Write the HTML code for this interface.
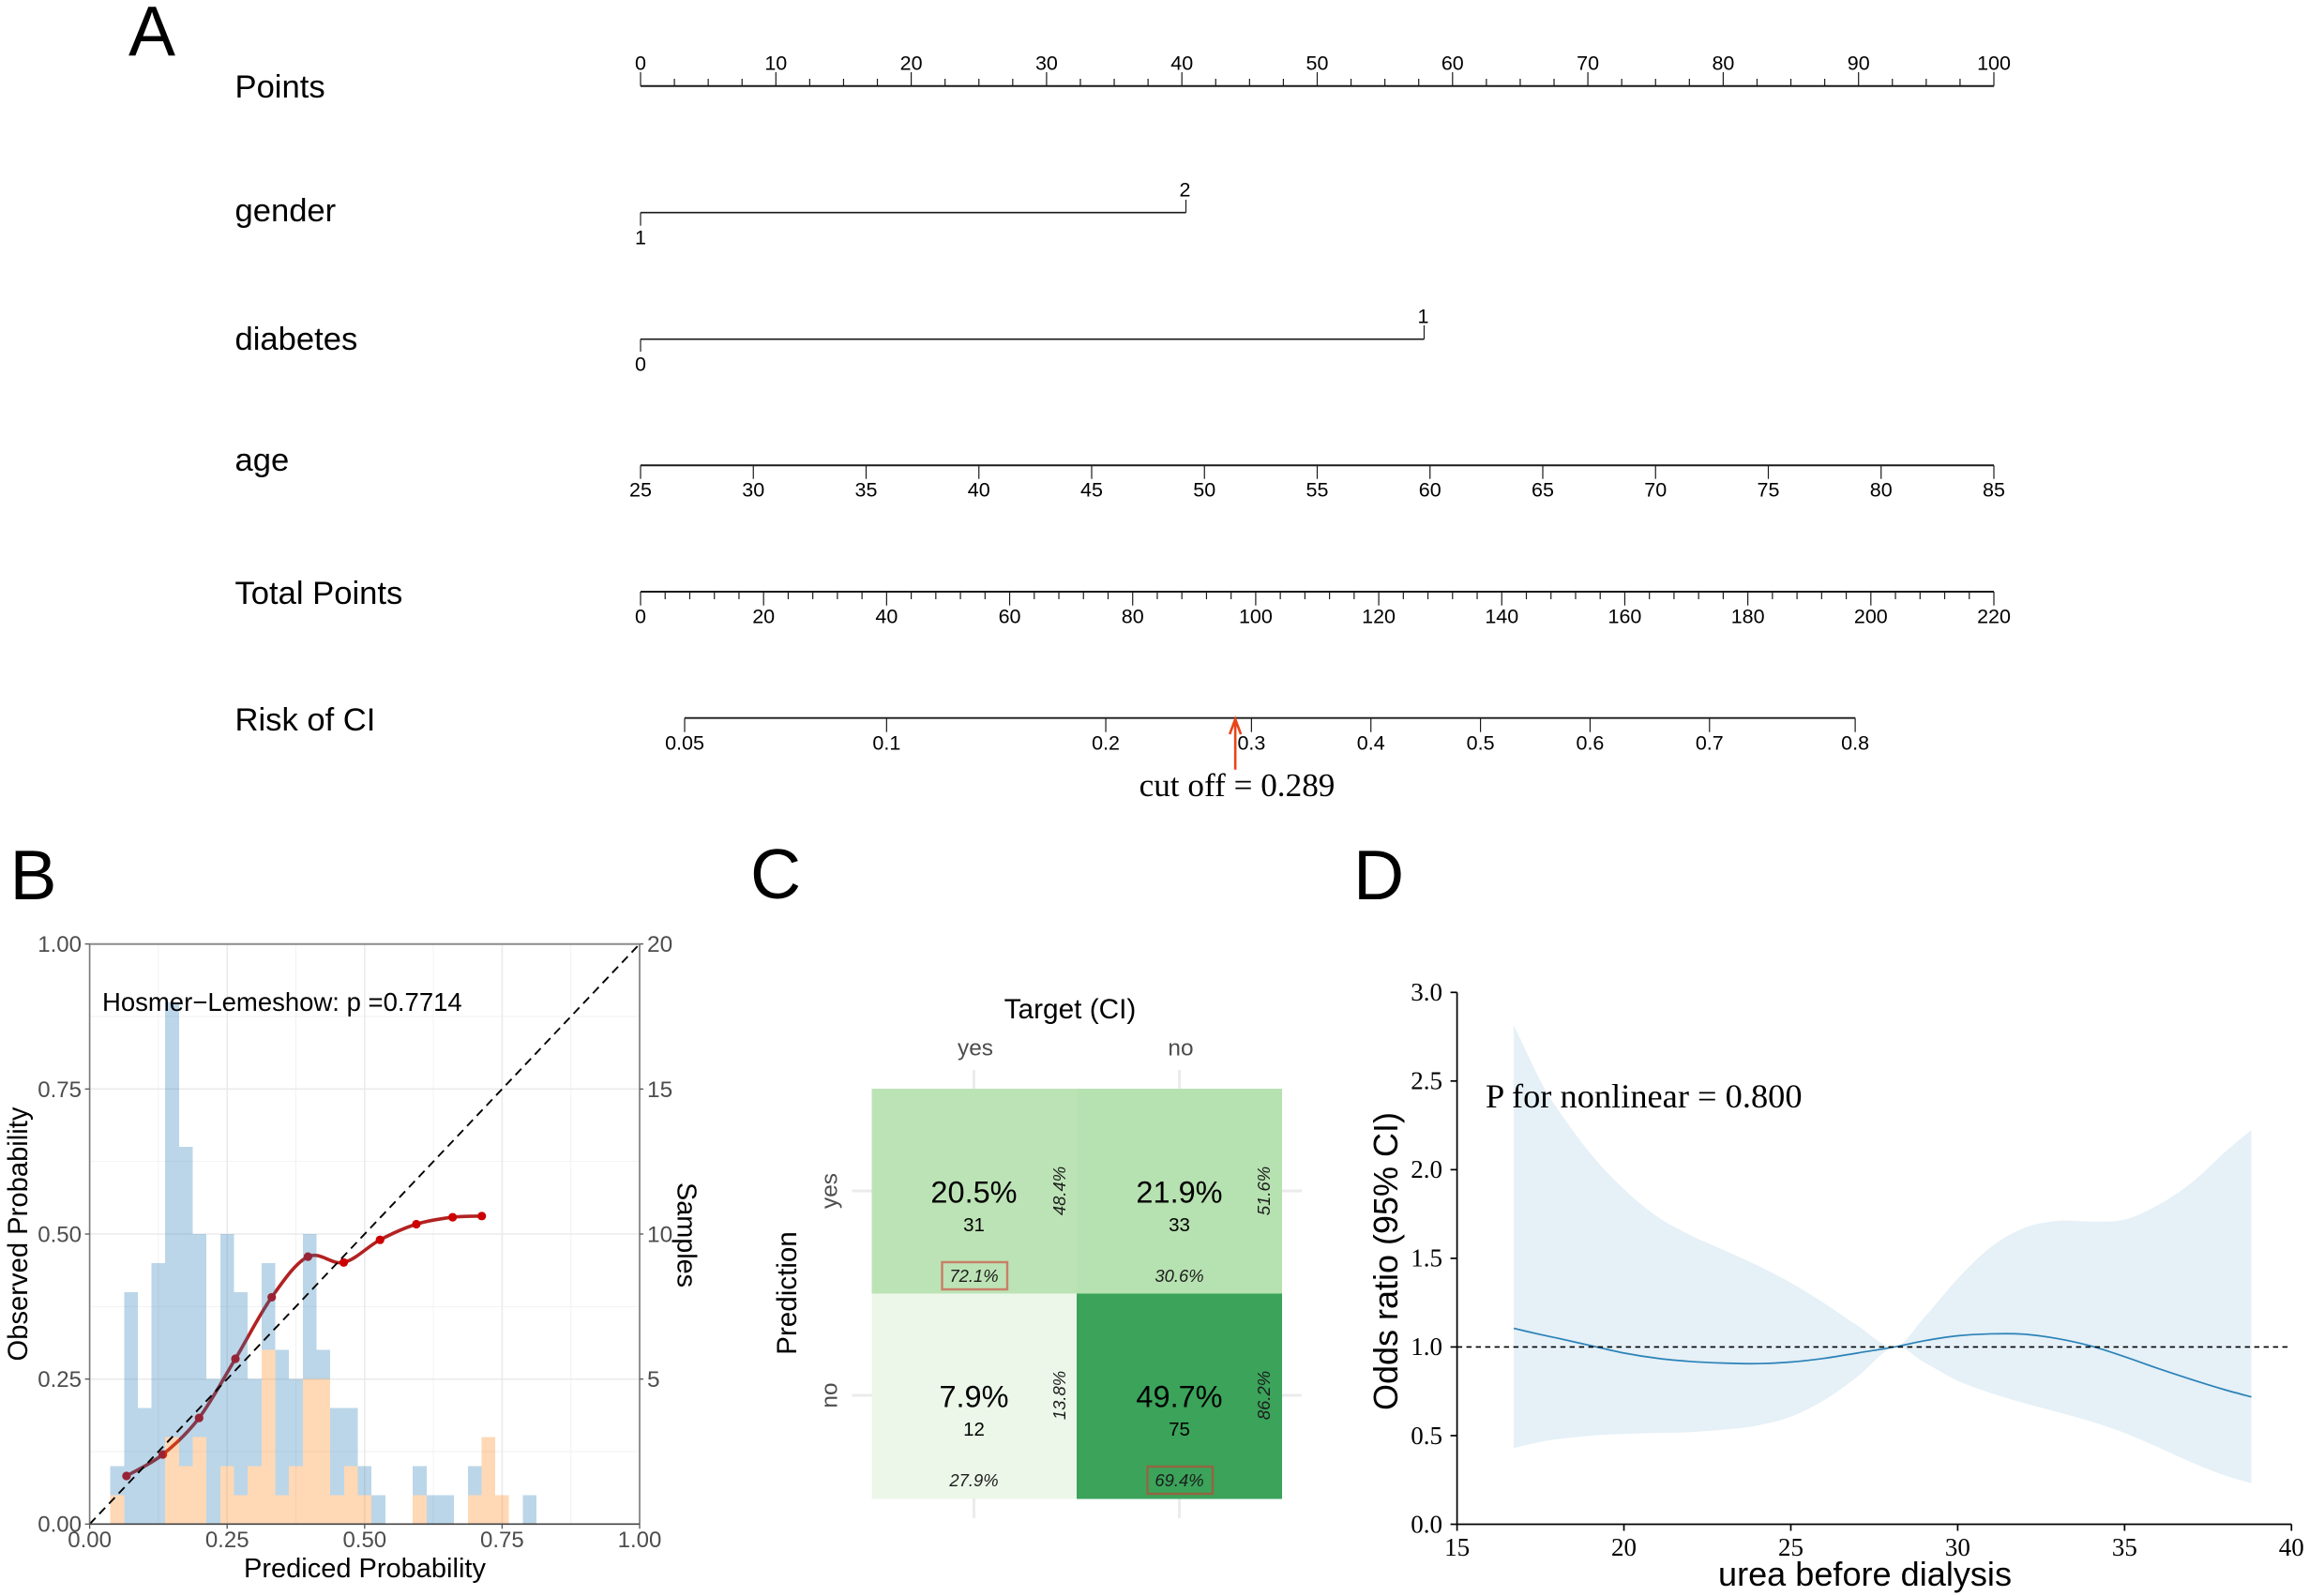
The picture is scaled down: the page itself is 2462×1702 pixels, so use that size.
<!DOCTYPE html>
<html lang="en">
<head>
<meta charset="utf-8">
<title>Nomogram, calibration, confusion matrix and spline panels</title>
<style>
html,body{margin:0;padding:0;background:#fff;}
svg{display:block;font-family:"Liberation Sans",Arial,sans-serif;}
.serif{font-family:"Liberation Serif","Times New Roman",serif;}
</style>
</head>
<body>
<svg id="figure" xmlns="http://www.w3.org/2000/svg" width="2462" height="1702" viewBox="0 0 2462 1702">
  <rect x="0" y="0" width="2462" height="1702" fill="#fff"/>
  <text x="137" y="59" font-size="75">A</text>
  <text x="10.5" y="959" font-size="75">B</text>
  <text x="800" y="958" font-size="75">C</text>
  <text x="1443" y="959" font-size="75">D</text>
  <g id="panelA"></g>
  <g id="panelB"></g>
  <g id="panelC"></g>
  <g id="panelD"></g>
</svg>
<script>
/* ---------- Panel A data ---------- */
const pointsMajorTicks = [0,10,20,30,40,50,60,70,80,90,100];
const pointsMinorTicks = [2.5,5,7.5,12.5,15,17.5,22.5,25,27.5,32.5,35,37.5,42.5,45,47.5,52.5,55,57.5,62.5,65,67.5,72.5,75,77.5,82.5,85,87.5,92.5,95,97.5];
const genderPoints = [0,40.3];
const genderLabels = ['1','2'];
const diabetesPoints = [0,57.9];
const diabetesLabels = ['0','1'];
const ageTicks = [25,30,35,40,45,50,55,60,65,70,75,80,85];
const totalMajorTicks = [0,20,40,60,80,100,120,140,160,180,200,220];
const totalMinorTicks = [4,8,12,16,24,28,32,36,44,48,52,56,64,68,72,76,84,88,92,96,104,108,112,116,124,128,132,136,144,148,152,156,164,168,172,176,184,188,192,196,204,208,212,216];
const riskTicks = [0.05,0.1,0.2,0.3,0.4,0.5,0.6,0.7,0.8];
const riskCutoff = [0.289];

/* ---------- Panel B data ---------- */
const histBins = [0.05,0.075,0.1,0.125,0.15,0.175,0.2,0.225,0.25,0.275,0.3,0.325,0.35,0.375,0.4,0.425,0.45,0.475,0.5,0.525,0.55,0.575,0.6,0.625,0.65,0.675,0.7,0.725,0.75,0.775,0.8];
const histOrangeCounts = [1,0,0,0,3,2,3,0,2,1,2,6,1,2,5,5,1,2,1,0,0,0,1,0,0,0,1,3,1,0,0];
const histBlueCounts = [1,8,4,9,15,11,7,5,8,7,3,3,5,3,5,1,3,2,1,1,0,0,1,1,1,0,1,0,0,0,1];
const calibPredicted = [0.067,0.133,0.199,0.265,0.331,0.397,0.462,0.528,0.594,0.660,0.713];
const calibObserved = [0.083,0.120,0.183,0.285,0.391,0.461,0.451,0.490,0.517,0.529,0.531];
const calibTickLabels = ['0.00','0.25','0.50','0.75','1.00'];
const calibTickValues = [0,0.25,0.5,0.75,1];
const sampleTickValues = [5,10,15,20];

/* ---------- Panel C data ---------- */
const cmTargets = ['yes','no'];
const cmPredictions = ['yes','no'];
const cmCounts = [[31,33],[12,75]];
const cmTotalPct = [['20.5%','21.9%'],['7.9%','49.7%']];
const cmColPct = [['72.1%','30.6%'],['27.9%','69.4%']];
const cmRowPct = [['48.4%','51.6%'],['13.8%','86.2%']];

/* ---------- Panel D data ---------- */
const ureaValues = [16.7,17.5,18,19,20,21,22,23,24,25,26,27,28.1,29,30,31,32,33,34,35,36,37,38,38.8];
const oddsCentre = [1.105,1.07,1.05,1.008,0.966,0.936,0.918,0.909,0.906,0.915,0.936,0.966,1.0,1.035,1.063,1.074,1.072,1.047,1.005,0.945,0.879,0.817,0.759,0.718];
const oddsUpper = [2.816,2.50,2.345,2.09,1.89,1.735,1.63,1.546,1.46,1.362,1.247,1.12,1.0,1.166,1.385,1.564,1.672,1.711,1.707,1.718,1.80,1.925,2.098,2.224];
const oddsLower = [0.431,0.465,0.48,0.50,0.51,0.515,0.52,0.534,0.557,0.607,0.70,0.833,1.0,0.913,0.81,0.74,0.683,0.633,0.58,0.515,0.435,0.35,0.276,0.232];
const ureaTicks = [15,20,25,30,35,40];
const oddsTicks = ['0.0','0.5','1.0','1.5','2.0','2.5','3.0'];

/* ---------- helpers ---------- */
const NS = 'http://www.w3.org/2000/svg';
function add(parent, tag, attrs, content) {
  const node = document.createElementNS(NS, tag);
  for (const k in attrs) node.setAttribute(k, attrs[k]);
  if (content !== undefined) node.textContent = content;
  parent.appendChild(node);
  return node;
}
function smoothPath(px, py, move) {
  let d = (move === false ? 'L' : 'M') + px[0].toFixed(2) + ' ' + py[0].toFixed(2);
  for (let i = 0; i < px.length - 1; i++) {
    const a = Math.max(i - 1, 0), b = Math.min(i + 2, px.length - 1);
    const c1x = px[i] + (px[i + 1] - px[a]) / 6, c1y = py[i] + (py[i + 1] - py[a]) / 6;
    const c2x = px[i + 1] - (px[b] - px[i]) / 6, c2y = py[i + 1] - (py[b] - py[i]) / 6;
    d += ' C' + c1x.toFixed(2) + ' ' + c1y.toFixed(2) + ' ' + c2x.toFixed(2) + ' ' + c2y.toFixed(2) + ' ' + px[i + 1].toFixed(2) + ' ' + py[i + 1].toFixed(2);
  }
  return d;
}
const INK = '#1a1a1a';

/* ---------- Panel A ---------- */
(function () {
  const g = document.getElementById('panelA');
  const X0 = 683, X1 = 2126;
  const xPoints = v => X0 + (X1 - X0) * v / 100;
  const xAge = v => X0 + (X1 - X0) * (v - 25) / 60;
  const xTotal = v => X0 + (X1 - X0) * v / 220;
  const logit = p => Math.log(p / (1 - p));
  const xRisk = p => 730 + (logit(p) - logit(0.05)) * 288.2;
  const FS = 21.5;
  const varLabels = [['Points', 104], ['gender', 236], ['diabetes', 373], ['age', 502], ['Total Points', 644], ['Risk of CI', 779]];
  varLabels.forEach(function (row) {
    const el = add(g, 'text', { x: 250.5, y: row[1], 'font-size': 34.6, fill: '#000' }, row[0]);
    
    
  });
  function axisLine(x1, x2, y, w) {
    const el = add(g, 'line', { x1: x1, x2: x2, y1: y, y2: y, stroke: INK, 'stroke-width': w });
    
    
  }
  function tick(x, y1, y2) {
    const el = add(g, 'line', { x1: x, x2: x, y1: y1, y2: y2, stroke: INK, 'stroke-width': 1.2 });
    
    
  }
  function tickText(x, yc, s) {
    const el = add(g, 'text', { x: x, y: yc + FS * 0.35, 'font-size': FS, 'text-anchor': 'middle', fill: '#000' }, s);
    
    
  }
  axisLine(xPoints(0), xPoints(100), 91.7, 2);
  pointsMajorTicks.forEach(v => { tick(xPoints(v), 77, 91.7); tickText(xPoints(v), 67, String(v)); });
  pointsMinorTicks.forEach(v => tick(xPoints(v), 84, 91.7));

  axisLine(xPoints(genderPoints[0]), xPoints(genderPoints[1]), 226.7, 1.6);
  tick(xPoints(genderPoints[0]), 226.7, 240.7);
  tick(xPoints(genderPoints[1]), 213, 226.7);
  tickText(xPoints(genderPoints[0]), 253, genderLabels[0]);
  tickText(xPoints(genderPoints[1]) - 1, 202, genderLabels[1]);

  axisLine(xPoints(diabetesPoints[0]), xPoints(diabetesPoints[1]), 361.7, 1.6);
  tick(xPoints(diabetesPoints[0]), 361.7, 375);
  tick(xPoints(diabetesPoints[1]), 347, 361.7);
  tickText(xPoints(diabetesPoints[0]), 388, diabetesLabels[0]);
  tickText(xPoints(diabetesPoints[1]) - 1, 337, diabetesLabels[1]);

  axisLine(xAge(25), xAge(85), 496.3, 2);
  ageTicks.forEach(v => { tick(xAge(v), 496.3, 510.7); tickText(xAge(v), 522, String(v)); });

  axisLine(xTotal(0), xTotal(220), 631, 2);
  totalMajorTicks.forEach(v => { tick(xTotal(v), 631, 645.7); tickText(xTotal(v), 657, String(v)); });
  totalMinorTicks.forEach(v => tick(xTotal(v), 631, 639));

  axisLine(xRisk(0.05), xRisk(0.8), 765.7, 1.8);
  riskTicks.forEach(v => { tick(xRisk(v), 765.7, 780.7); tickText(xRisk(v), 792, String(v)); });

  const ax = xRisk(riskCutoff[0]) - 2;
  const arrow = add(g, 'path', { d: 'M' + ax + ' 820.7 L' + ax + ' 767 M' + (ax - 6) + ' 783 L' + ax + ' 767 L' + (ax + 6) + ' 783', fill: 'none', stroke: '#e8451a', 'stroke-width': 2.6 });
  
  
  const cutText = add(g, 'text', { x: 1319, y: 849, 'font-size': 35.2, 'text-anchor': 'middle', class: 'serif', fill: '#000' }, 'cut off = ' + riskCutoff[0]);
  
  
})();

/* ---------- Panel B ---------- */
(function () {
  const g = document.getElementById('panelB');
  const L = 95.6, R = 682, T = 1006.7, B = 1625.3;
  const x = v => L + (R - L) * v;
  const y = v => B - (B - T) * v;
  const yCount = c => B - (B - T) * c / 20;
  const binW = 0.025;
  const GREY = '#4d4d4d';

  [0.125, 0.375, 0.625, 0.875].forEach(function (v) {
    const h = add(g, 'line', { x1: L, x2: R, y1: y(v), y2: y(v), stroke: '#f2f2f2', 'stroke-width': 1 });
    
    
    const w = add(g, 'line', { x1: x(v), x2: x(v), y1: T, y2: B, stroke: '#f2f2f2', 'stroke-width': 1 });
    
    
  });
  calibTickValues.forEach(function (v) {
    const h = add(g, 'line', { x1: L, x2: R, y1: y(v), y2: y(v), stroke: '#ebebeb', 'stroke-width': 1.6 });
    
    
    const w = add(g, 'line', { x1: x(v), x2: x(v), y1: T, y2: B, stroke: '#ebebeb', 'stroke-width': 1.6 });
    
    
  });

  const px = calibPredicted.map(x), py = calibObserved.map(y);
  const curve = add(g, 'path', { d: smoothPath(px, py), fill: 'none', stroke: '#b22222', 'stroke-width': 3.6 });
  
  
  px.forEach(function (cx, i) {
    const dot = add(g, 'circle', { cx: cx, cy: py[i], r: 4.6, fill: '#cc0000' });
    
    
  });

  histBins.forEach(function (c, i) {
    const o = histOrangeCounts[i], b = histBlueCounts[i];
    if (o > 0) {
      const r = add(g, 'rect', { x: x(c - binW / 2), width: x(c + binW / 2) - x(c - binW / 2), y: yCount(o), height: yCount(0) - yCount(o), fill: '#ff7f0e', 'fill-opacity': 0.3, 'shape-rendering': 'crispEdges' });
      
      
    }
    if (b > 0) {
      const r = add(g, 'rect', { x: x(c - binW / 2), width: x(c + binW / 2) - x(c - binW / 2), y: yCount(o + b), height: yCount(o) - yCount(o + b), fill: '#1f77b4', 'fill-opacity': 0.3, 'shape-rendering': 'crispEdges' });
      
      
    }
  });

  const diag = add(g, 'line', { x1: x(0), y1: y(0), x2: x(1), y2: y(1), stroke: '#000', 'stroke-width': 1.9, 'stroke-dasharray': '9 6' });
  
  

  const topB = add(g, 'line', { x1: L, x2: R, y1: T, y2: T, stroke: '#8c8c8c', 'stroke-width': 2 });
  
  
  const leftB = add(g, 'line', { x1: L, x2: L, y1: T, y2: B, stroke: '#7a7a7a', 'stroke-width': 1.6 });
  
  
  const rightB = add(g, 'line', { x1: R, x2: R, y1: T, y2: B, stroke: '#7a7a7a', 'stroke-width': 1.6 });
  
  
  const botB = add(g, 'line', { x1: L, x2: R, y1: B, y2: B, stroke: '#444', 'stroke-width': 1.6 });
  
  

  calibTickValues.forEach(function (v, i) {
    const t1 = add(g, 'line', { x1: L - 5, x2: L, y1: y(v), y2: y(v), stroke: '#555', 'stroke-width': 1.3 });
    
    
    const l1 = add(g, 'text', { x: 87, y: y(v) + 8.4, 'font-size': 24, 'text-anchor': 'end', fill: GREY }, calibTickLabels[i]);
    
    
    const t2 = add(g, 'line', { x1: x(v), x2: x(v), y1: B, y2: B + 5, stroke: '#555', 'stroke-width': 1.3 });
    
    
    const l2 = add(g, 'text', { x: x(v), y: 1650, 'font-size': 24, 'text-anchor': 'middle', fill: GREY }, calibTickLabels[i]);
    
    
  });
  sampleTickValues.forEach(function (c) {
    const t = add(g, 'line', { x1: R, x2: R + 4, y1: yCount(c), y2: yCount(c), stroke: '#555', 'stroke-width': 1.3 });
    
    
    const l = add(g, 'text', { x: 690, y: yCount(c) + 8.4, 'font-size': 24.4, fill: GREY }, String(c));
    
    
  });

  const yt = add(g, 'text', { x: 0, y: 0, transform: 'translate(29 1316) rotate(-90)', 'font-size': 29.2, 'text-anchor': 'middle', fill: '#000' }, 'Observed Probability');
  
  
  const st = add(g, 'text', { x: 0, y: 0, transform: 'translate(722.5 1317) rotate(90)', 'font-size': 28.8, 'text-anchor': 'middle', fill: '#000' }, 'Samples');
  
  
  const xt = add(g, 'text', { x: 389, y: 1682, 'font-size': 29, 'text-anchor': 'middle', fill: '#000' }, 'Prediced Probability');
  
  
  const hl = add(g, 'text', { x: 109, y: 1078, 'font-size': 27.5, fill: '#000' }, 'Hosmer\u2212Lemeshow: p =0.7714');
  
  
})();

/* ---------- Panel C ---------- */
(function () {
  const g = document.getElementById('panelC');
  const colEdges = [929.5, 1148.2, 1366.8];
  const rowEdges = [1160.8, 1379.5, 1598.5];
  const colC = [1038.5, 1257.5];
  const rowC = [1271, 1489];
  const GREY = '#4d4d4d';
  function fillFor(n) {
    const stops = [[12, [236, 247, 233]], [32, [185, 226, 178]], [75, [59, 163, 90]]];
    let a = stops[0], b = stops[1];
    if (n > stops[1][0]) { a = stops[1]; b = stops[2]; }
    const t = Math.max(0, Math.min(1, (n - a[0]) / (b[0] - a[0])));
    return 'rgb(' + a[1].map((c, i) => Math.round(c + (b[1][i] - c) * t)).join(',') + ')';
  }
  [0, 1].forEach(function (c) {
    const t1 = add(g, 'line', { x1: colC[c], x2: colC[c], y1: 1141, y2: 1160.8, stroke: '#ebebeb', 'stroke-width': 3 });
    
    
    const t2 = add(g, 'line', { x1: colC[c], x2: colC[c], y1: 1598.5, y2: 1619, stroke: '#ebebeb', 'stroke-width': 3 });
    
    
    const l = add(g, 'text', { x: colC[c] + 1.5, y: 1125.7, 'font-size': 24.4, 'text-anchor': 'middle', fill: GREY }, cmTargets[c]);
    
    
  });
  [0, 1].forEach(function (r) {
    const t1 = add(g, 'line', { x1: 908.5, x2: 929.5, y1: rowC[r] - 1, y2: rowC[r] - 1, stroke: '#ebebeb', 'stroke-width': 3 });
    
    
    const t2 = add(g, 'line', { x1: 1366.8, x2: 1388, y1: rowC[r] - 1, y2: rowC[r] - 1, stroke: '#ebebeb', 'stroke-width': 3 });
    
    
    const l = add(g, 'text', { x: 0, y: 0, transform: 'translate(892.7 ' + (rowC[r] - 1) + ') rotate(-90)', 'font-size': 24.4, 'text-anchor': 'middle', fill: GREY }, cmPredictions[r]);
    
    
  });
  cmCounts.forEach(function (row, r) {
    row.forEach(function (n, c) {
      const cell = add(g, 'rect', { x: colEdges[c], y: rowEdges[r], width: colEdges[c + 1] - colEdges[c], height: rowEdges[r + 1] - rowEdges[r], fill: fillFor(n), 'shape-rendering': 'crispEdges' });
      
      
    });
  });
  cmCounts.forEach(function (row, r) {
    row.forEach(function (n, c) {
      const big = add(g, 'text', { x: colC[c], y: rowC[r] + 11.5, 'font-size': 32.5, 'text-anchor': 'middle', fill: '#000' }, cmTotalPct[r][c]);
      
      
      const cnt = add(g, 'text', { x: colC[c], y: rowC[r] + 42, 'font-size': 20.5, 'text-anchor': 'middle', fill: '#000' }, String(n));
      
      
      const bot = add(g, 'text', { x: colC[c], y: rowC[r] + 96, 'font-size': 18.4, 'font-style': 'italic', 'text-anchor': 'middle', fill: '#1c1c1c' }, cmColPct[r][c]);
      
      
      const side = add(g, 'text', { x: 0, y: 0, transform: 'translate(' + [1136, 1354][c] + ' ' + (rowC[r] - 1) + ') rotate(-90)', 'font-size': 18.4, 'font-style': 'italic', 'text-anchor': 'middle', fill: '#1c1c1c' }, cmRowPct[r][c]);
      
      
      if (r === c) {
        const box = add(g, 'rect', { x: colC[c] - 34, y: rowC[r] + 75, width: 69.5, height: 29, fill: 'none', stroke: 'rgb(210,60,50)', 'stroke-opacity': 0.6, 'stroke-width': 2.4 });
        
        
      }
    });
  });
  const tt = add(g, 'text', { x: 1141, y: 1086, 'font-size': 29.8, 'text-anchor': 'middle', fill: '#000' }, 'Target (CI)');
  
  
  const pt = add(g, 'text', { x: 0, y: 0, transform: 'translate(849 1379) rotate(-90)', 'font-size': 29.6, 'text-anchor': 'middle', fill: '#000' }, 'Prediction');
  
  
})();

/* ---------- Panel D ---------- */
(function () {
  const g = document.getElementById('panelD');
  const L = 1553.6, R = 2443.3, T = 1058.3, B = 1625.5;
  const x = v => L + (R - L) * (v - 15) / 25;
  const y = v => B - (B - T) * v / 3;
  const px = ureaValues.map(x);
  const upper = oddsUpper.map(y), lower = oddsLower.map(y), centre = oddsCentre.map(y);
  const d = smoothPath(px, upper) + ' ' + smoothPath(px.slice().reverse(), lower.slice().reverse(), false) + ' Z';
  const ribbon = add(g, 'path', { d: d, fill: '#e5f0f7' });
  
  
  const line = add(g, 'path', { d: smoothPath(px, centre), fill: 'none', stroke: '#2a82b8', 'stroke-width': 1.7 });
  
  
  const ref = add(g, 'line', { x1: L, x2: R, y1: y(1), y2: y(1), stroke: '#000', 'stroke-width': 1.7, 'stroke-dasharray': '5.5 4.5' });
  
  
  const ya = add(g, 'line', { x1: L, x2: L, y1: T, y2: B, stroke: '#000', 'stroke-width': 1.7 });
  
  
  const xa = add(g, 'line', { x1: L, x2: R, y1: B, y2: B, stroke: '#000', 'stroke-width': 1.7 });
  
  
  oddsTicks.forEach(function (s) {
    const v = parseFloat(s);
    const t = add(g, 'line', { x1: L - 7, x2: L, y1: y(v), y2: y(v), stroke: '#000', 'stroke-width': 1.7 });
    
    
    const l = add(g, 'text', { x: 1538, y: y(v) + 8.8, 'font-size': 27, 'text-anchor': 'end', class: 'serif', fill: '#000' }, s);
    
    
  });
  ureaTicks.forEach(function (v) {
    const t = add(g, 'line', { x1: x(v), x2: x(v), y1: B, y2: B + 7, stroke: '#000', 'stroke-width': 1.7 });
    
    
    const l = add(g, 'text', { x: x(v), y: 1659, 'font-size': 27, 'text-anchor': 'middle', class: 'serif', fill: '#000' }, String(v));
    
    
  });
  const yt = add(g, 'text', { x: 0, y: 0, transform: 'translate(1490 1345) rotate(-90)', 'font-size': 36, 'text-anchor': 'middle', textLength: 318, lengthAdjust: 'spacingAndGlyphs', fill: '#000' }, 'Odds ratio (95% CI)');
  
  
  const xt = add(g, 'text', { x: 1988.5, y: 1691, 'font-size': 36, 'text-anchor': 'middle', textLength: 313, lengthAdjust: 'spacingAndGlyphs', fill: '#000' }, 'urea before dialysis');
  
  
  const pn = add(g, 'text', { x: 1584, y: 1181, 'font-size': 36.4, class: 'serif', fill: '#000' }, 'P for nonlinear = 0.800');
  
  
})();
</script>
</body>
</html>
